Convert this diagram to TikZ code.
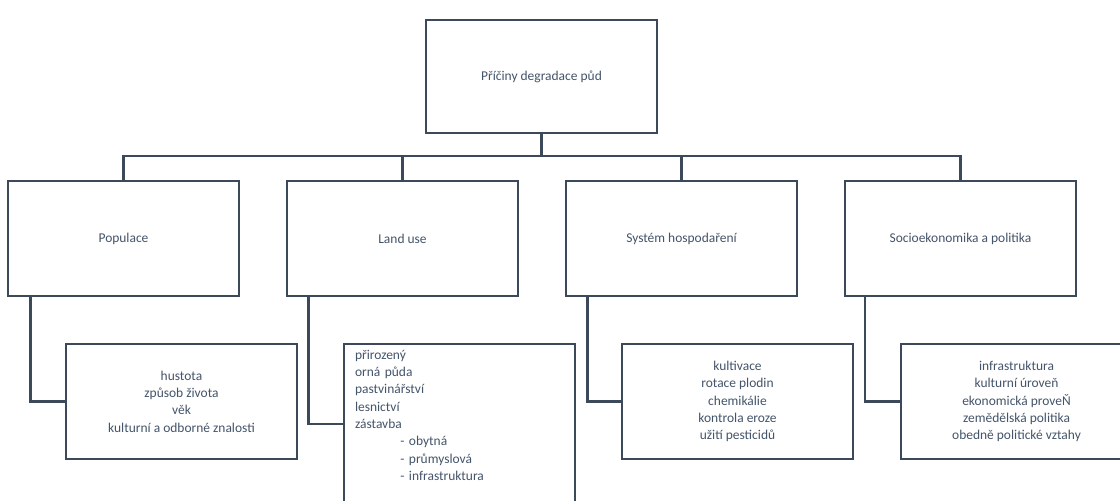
\documentclass[tikz,border=0pt]{standalone}
\usepackage{fontspec}
\setmainfont{Carlito}
\definecolor{cara}{HTML}{3B495B}
\definecolor{texte}{HTML}{44546A}

\begin{document}
\begin{tikzpicture}[x=0.75pt,y=-0.75pt,
	boite/.style={draw=cara, line width=2pt, fill=white, text=texte, align=center,
		minimum width=173.25pt, minimum height=86.25pt, inner sep=0pt,
		font=\fontsize{10.1}{13}\selectfont},
	lien/.style={cara, line width=2pt}]
	\useasboundingbox (0,0) rectangle (1120,500);
	\clip (0,0) rectangle (1120,500);
	\coordinate (bus) at (0,156);

	% la racine
	\node[boite, minimum height=84.75pt] (T) at (541.5,76.5) {Příčiny degradace půd};

	% les causes
	\node[boite] (A1) at (123.5,238.5) {Populace};
	\node[boite] (A2) at (402.5,238.5) {Land use};
	\node[boite] (A3) at (681.5,238.5) {Systém hospodaření};
	\node[boite] (A4) at (960.5,238.5) {Socioekonomika a politika};

	% les détails
	\node[boite] (B1) at (181.5,401.5) {hustota\\ způsob života\\ věk\\ kulturní a odborné znalosti};
	\node[boite, minimum height=120pt, text width=156.75pt, inner xsep=8.25pt, align=left] (B2) at (459.5,424)
		{přirozený\\ orná půda\\ pastvinářství\\ lesnictví\\ zástavba\\
		\hspace*{34pt}- obytná\\ \hspace*{34pt}- průmyslová\\ \hspace*{34pt}- infrastruktura\\ \mbox{}};
	\node[boite] (B3) at (737.5,401.5) {kultivace\\ rotace plodin\\ chemikálie\\ kontrola eroze\\ užití pesticidů};
	\node[boite] (B4) at (1016.5,401.5) {infrastruktura\\ kulturní úroveň\\ ekonomická proveŇ\\ zemědělská politika\\ obedně politické vztahy};

	\draw[lien] (T.south) -- (T.south |- bus);
	\draw[lien] (A1.north) |- (A4.north |- bus) -- (A4.north);
	\draw[lien] (A2.north) -- (A2.north |- bus);
	\draw[lien] (A3.north) -- (A3.north |- bus);

	\draw[lien] ([xshift=18pt]A1.south west) |- (B1.west);
	\draw[lien] ([xshift=17pt]A2.south west) |- (B2.west);
	\draw[lien] ([xshift=17pt]A3.south west) |- (B3.west);
	\draw[lien] ([xshift=16pt]A4.south west) |- (B4.west);

\end{tikzpicture}
\end{document}
